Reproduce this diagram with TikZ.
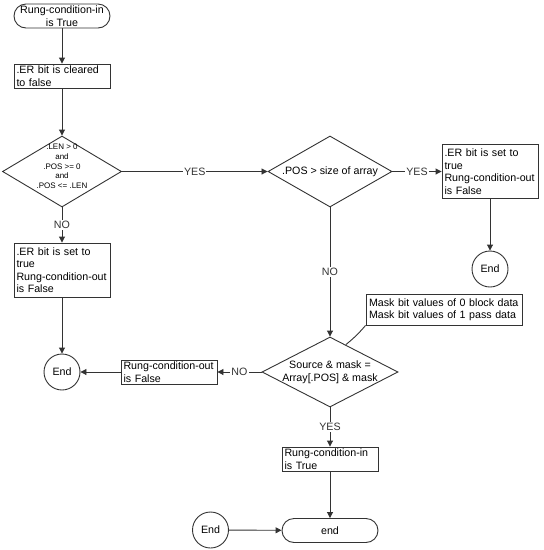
\documentclass[tikz,border=0pt]{standalone}
\usepackage{fontspec}
\setmainfont{Liberation Sans}
\usetikzlibrary{shapes.geometric,arrows.meta}
\definecolor{lin}{gray}{.2}
\tikzset{
  every node/.style={font=\fontsize{10.67}{12.5}\selectfont},
  term/.style={draw=lin, rectangle, rounded corners=12pt, minimum width=96pt, minimum height=24pt, align=center, inner sep=0pt},
  proc/.style={draw=lin, rectangle, minimum width=96pt, text width=91pt, minimum height=24pt, inner xsep=2.5pt, inner ysep=1pt, align=left},
  decide/.style={draw=lin, diamond, inner sep=0pt},
  stop/.style={draw=lin, circle, minimum size=36pt, inner sep=0pt},
  smalltxt/.style={font=\fontsize{8}{9.7}\selectfont},
  lab/.style={fill=white, inner sep=1pt},
}
\begin{document}
\begin{tikzpicture}[x=1pt,y=-1pt,line width=0.9pt,>={Triangle[length=6pt,width=6pt]}]
\useasboundingbox (0,0) rectangle (544,550);
% main column
\node[term] (start) at (62,16) {Rung-condition-in\\is True};
\node[proc] (clear) at (62,76) {.ER bit is cleared\\to false};
\node[decide, minimum width=119pt, minimum height=71pt,
  label={[smalltxt, align=center, yshift=5pt]center:{.LEN > 0\\and\\.POS >= 0\\and\\.POS <= .LEN}}] (check) at (62,171.5) {};
\node[proc, minimum height=54pt] (setl) at (62,270) {.ER bit is set to\\true\\Rung-condition-out\\is False};
\node[stop] (endl) at (62,372) {End};
% right side
\node[decide, minimum width=124pt, minimum height=71pt,
  label={[align=center]center:{.POS > size of array}}] (size) at (330,171.5) {};
\node[proc, minimum height=54pt] (setr) at (490,171.5) {.ER bit is set to\\true\\Rung-condition-out\\is False};
\node[stop] (endr) at (490,269) {End};
\node[decide, minimum width=136pt, minimum height=70pt,
  label={[align=center]center:{Source \& mask =\\Array[.POS] \& mask}}] (mask) at (330,372) {};
\node[proc, minimum width=156pt, text width=150pt, minimum height=31pt] (note) at (444,309.5) {Mask bit values of 0 block data\\Mask bit values of 1 pass data};
\node[proc] (outf) at (169,372) {Rung-condition-out\\is False};
\node[proc] (intr) at (330,459) {Rung-condition-in\\is True};
\node[stop] (endb) at (210.5,530) {End};
\node[term] (finish) at (330,530.5) {end};
% connectors
\draw[lin,->] (start) -- (clear);
\draw[lin,->] (clear) -- (check);
\draw[lin,->] (check) -- node[lab] {YES} (size);
\draw[lin,->] (check) -- node[lab] {NO} (setl);
\draw[lin,->] (setl) -- (endl);
\draw[lin,->] (size) -- node[lab] {YES} (setr);
\draw[lin,->] (setr) -- (endr);
\draw[lin,->] (size) -- node[lab] {NO} (mask);
\draw[lin,->] (mask) -- node[lab] {NO} (outf);
\draw[lin,->] (outf) -- (endl);
\draw[lin,->] (mask) -- node[lab] {YES} (intr);
\draw[lin,->] (intr) -- (finish);
\draw[lin,->] (endb) -- (finish);
\draw[lin] (note.south west) to[bend left=5] (mask.60);
\end{tikzpicture}
\end{document}
